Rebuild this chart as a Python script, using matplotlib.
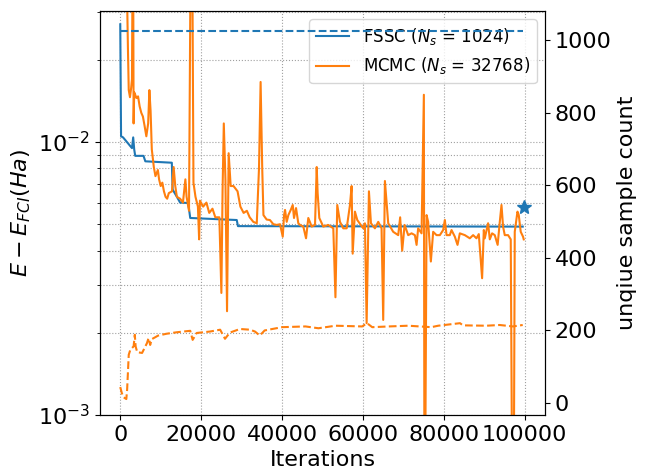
import numpy as np
import matplotlib
matplotlib.use('Agg')
import matplotlib.pyplot as plt

# ---- FSSC energy error (step-like) ----
fssc_it = [0, 200, 700, 2900, 3200, 3450, 3700, 5750, 6200, 12750, 12950,
           14000, 14800, 16800, 17300, 28800, 29100, 99500]
fssc_err = [0.0270, 0.0105, 0.0104, 0.0095, 0.0104, 0.0094, 0.0089, 0.0089,
            0.0085, 0.0084, 0.0067, 0.0063, 0.0060, 0.00598, 0.00527, 0.00518,
            0.00492, 0.00490]

# ---- MCMC energy error ----
mcmc_it = [0, 1500, 1900, 2100, 2400, 2700, 2900, 3050, 3200, 3300, 3450, 3700,
           4000, 4400, 4800, 5200, 5600, 6000, 6450, 6900, 7200, 7500, 7800, 8300,
           8700, 9300, 9600, 10000, 10400, 10800, 11200, 11600, 12000, 12800, 13200,
           13600, 14000, 14800, 15500, 16100, 16400, 17000, 17400, 17800, 18100,
           18600, 19200, 19500, 19700, 20500, 21300, 22000, 22800, 23500, 24500,
           25000, 25300, 25600, 26000, 26400, 26800, 27300, 28000, 29000, 29700,
           30500, 31300, 32000, 32900, 33750, 34300, 34700, 35100, 35400, 36200,
           37000, 37850, 38700, 39500, 40170, 40500, 40740, 41150, 41560, 42150,
           42640, 42960, 43460, 44020, 44440, 45260, 45930, 46490, 47330, 48150,
           48570, 48800, 49210, 50200, 51430, 52670, 53200, 53650, 54320, 55130,
           55980, 56790, 57200, 57460, 58020, 58600, 60070, 60490, 60910, 61480,
           61980, 62960, 63780, 64600, 65010, 65430, 66250, 67480, 68720, 69200,
           69700, 70300, 71190, 72020, 72840, 73260, 73650, 74490, 75060, 75200,
           75360, 75730, 76120, 76790, 77360, 78190, 79010, 79830, 80250, 80670,
           81480, 81900, 82720, 83380, 83950, 85190, 86420, 87240, 88070, 88640,
           89460, 89880, 90120, 90940, 91360, 91930, 92590, 93300, 93830, 94250,
           94640, 95060, 95880, 96540, 96900, 97280, 97530, 98200, 98520, 99010,
           99580, 99750]
mcmc_err = [0.2, 0.05, 0.022, 0.0155, 0.0146, 0.0158, 0.017, 0.045, 0.045, 0.0117,
            0.0152, 0.0149, 0.0145, 0.0147, 0.0135, 0.0128, 0.0124, 0.0115, 0.0105,
            0.0117, 0.0155, 0.013, 0.0094, 0.0081, 0.0075, 0.0079, 0.0073, 0.0069,
            0.0071, 0.0066, 0.0063, 0.0062, 0.0065, 0.0066, 0.0081, 0.0069, 0.0063,
            0.0062, 0.0060, 0.0073, 0.0063, 0.0056, 0.05, 0.05, 0.0071, 0.0063,
            0.0058, 0.0044, 0.0061, 0.0058, 0.0060, 0.0055, 0.0057, 0.0053, 0.0053,
            0.0028, 0.0067, 0.0117, 0.0073, 0.0024, 0.0091, 0.0069, 0.0069, 0.0066,
            0.0058, 0.0055, 0.0056, 0.0053, 0.0051, 0.00504, 0.0080, 0.0166, 0.0080,
            0.0054, 0.0052, 0.00518, 0.0050, 0.00497, 0.0050, 0.0045, 0.0054, 0.00564,
            0.0051, 0.0054, 0.00564, 0.00588, 0.00527, 0.00573, 0.00504, 0.00497,
            0.0049, 0.00444, 0.00527, 0.0049, 0.00497, 0.0081, 0.0065, 0.00527,
            0.0049, 0.00497, 0.00483, 0.0027, 0.00588, 0.0051, 0.00483, 0.00483,
            0.00588, 0.0069, 0.0039, 0.00556, 0.00518, 0.00483, 0.00504, 0.00217,
            0.0066, 0.00504, 0.00483, 0.0051, 0.00483, 0.00223, 0.0072, 0.00504,
            0.00469, 0.00456, 0.0053, 0.0040, 0.00497, 0.00456, 0.00463, 0.00456,
            0.0042, 0.00483, 0.00463, 0.0149, 0.0005, 0.0005, 0.0054, 0.0051, 0.00365,
            0.00469, 0.00456, 0.00456, 0.00476, 0.00518, 0.00456, 0.00456, 0.00476,
            0.0045, 0.0042, 0.00463, 0.00456, 0.00444, 0.00456, 0.00444, 0.0046,
            0.00317, 0.00476, 0.00444, 0.00504, 0.0044, 0.00463, 0.00456, 0.0042,
            0.0051, 0.00588, 0.0049, 0.00456, 0.00456, 0.0044, 0.0005, 0.0005,
            0.00469, 0.00556, 0.0054, 0.00469, 0.0045, 0.0044]

# ---- unique sample counts ----
fssc_cnt_it = [0, 99500]
fssc_cnt = [1024, 1024]

mcmc_cnt_it = [0, 400, 800, 1500, 1700, 2100, 2500, 3300, 3600, 3800, 4200, 5400,
               6600, 7000, 7400, 7800, 9400, 11500, 14000, 17300, 17900, 18900,
               22200, 24700, 25900, 27100, 29600, 32100, 33300, 34500, 35700,
               40000, 45800, 49000, 53200, 59800, 61000, 62300, 66400, 71200,
               76900, 78600, 84000, 84700, 90500, 93800, 97100, 99500]
mcmc_cnt = [44, 27, 16, 11, 37, 133, 147, 156, 188, 156, 140, 138, 165, 179, 160,
            176, 186, 191, 195, 199, 174, 193, 197, 202, 177, 194, 204, 202, 197,
            186, 200, 209, 211, 206, 213, 211, 220, 209, 211, 213, 209, 213, 220,
            214, 213, 215, 211, 215]

# final point (star)
star_it = [99800]
star_err = [0.0058]

fig = plt.figure(figsize=(6.47, 4.73), dpi=100)
ax1 = fig.add_axes([0.1546, 0.1226, 0.6877, 0.8541])

ax1.plot(fssc_it, fssc_err, color='#1f77b4', lw=1.5, label='FSSC ($N_s$ = 1024)')
ax1.plot(mcmc_it, mcmc_err, color='#ff7f0e', lw=1.5, label='MCMC ($N_s$ = 32768)')
ax1.plot(star_it, star_err, '*', color='#1f77b4', markersize=10)
ax1.set_yscale('log')
ax1.set_ylim(1e-3, 0.0302)
ax1.set_xlim(-5000, 105000)
ax1.grid(True, which='both', linestyle=':', color='#a0a0a0')
ax1.set_xlabel('Iterations', fontsize=16)
ax1.set_ylabel('$E-E_{FCI}(Ha)$', fontsize=16)
ax1.tick_params(labelsize=16)
ax1.legend(loc='upper right', fontsize=12)

ax2 = ax1.twinx()
ax2.plot(fssc_cnt_it, fssc_cnt, '--', color='#1f77b4', lw=1.5)
ax2.plot(mcmc_cnt_it, mcmc_cnt, '--', color='#ff7f0e', lw=1.5)
ax2.set_ylim(-33, 1080)
ax2.set_ylabel('unqiue sample count', fontsize=16)
ax2.tick_params(labelsize=16)

fig.savefig('out.png', dpi=100)
